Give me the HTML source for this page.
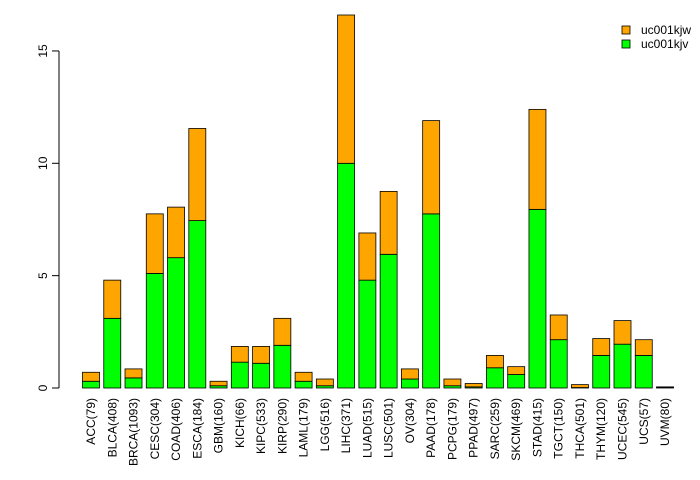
<!DOCTYPE html>
<html><head><meta charset="utf-8"><style>
body{margin:0;background:#fff}
svg{display:block;font-family:"Liberation Sans",sans-serif}
</style></head><body>
<svg id="c" width="700" height="480"></svg>
<script>
const categories=["ACC(79)","BLCA(408)","BRCA(1093)","CESC(304)","COAD(406)","ESCA(184)","GBM(160)","KICH(66)","KIPC(533)","KIRP(290)","LAML(179)","LGG(516)","LIHC(371)","LUAD(515)","LUSC(501)","OV(304)","PAAD(178)","PCPG(179)","PPAD(497)","SARC(259)","SKCM(469)","STAD(415)","TGCT(150)","THCA(501)","THYM(120)","UCEC(545)","UCS(57)","UVM(80)"];
const kjv=[0.3,3.1,0.45,5.1,5.8,7.45,0.1,1.15,1.1,1.9,0.3,0.1,10,4.8,5.95,0.4,7.75,0.1,0.05,0.9,0.6,7.95,2.15,0.02,1.45,1.95,1.45,0.02];
const kjw=[0.4,1.7,0.4,2.65,2.25,4.1,0.2,0.7,0.75,1.2,0.4,0.3,6.6,2.1,2.8,0.45,4.15,0.3,0.15,0.55,0.35,4.45,1.1,0.13,0.75,1.05,0.7,0.03];
const yTicks=[0,5,10,15];
const NS="http://www.w3.org/2000/svg";
const svg=document.getElementById('c');
function y(v){return 388-v*22.47;}
function x(i){return 91+i*21.26;}
function mk(t,a,p){const e=document.createElementNS(NS,t);for(const k in a)e.setAttribute(k,a[k]);(p||svg).appendChild(e);return e;}
// axis
const ax=mk('g',{});


mk('line',{x1:59,x2:59,y1:y(0),y2:y(15),stroke:'#000'},ax);
yTicks.forEach(t=>{
  mk('line',{x1:52,x2:59,y1:y(t),y2:y(t),stroke:'#000'},ax);
  const tx=mk('text',{x:0,y:0,transform:`translate(47,${y(t)}) rotate(-90)`,'text-anchor':'middle','font-size':12},ax);
  tx.textContent=t;
  
  
});
categories.forEach((c,i)=>{
  const g=mk('g',{});
  
  
  const bw=17,x0=x(i)-bw/2;
  mk('rect',{x:x0,y:y(kjv[i]),width:bw,height:y(0)-y(kjv[i]),fill:'#00ff00',stroke:'#000','stroke-width':0.8},g);
  mk('rect',{x:x0,y:y(kjv[i]+kjw[i]),width:bw,height:y(kjv[i])-y(kjv[i]+kjw[i]),fill:'#ffa500',stroke:'#000','stroke-width':0.8},g);
  const t=mk('text',{transform:`translate(${x(i)+4},398) rotate(-90)`,'text-anchor':'end','font-size':12},g);
  t.textContent=c;
  
  
});
// legend
const lg=mk('g',{});


[['uc001kjw','#ffa500',30],['uc001kjv','#00ff00',44]].forEach(([n,col,yy])=>{
  const e=mk('g',{},lg);
  
  
  mk('rect',{x:622,y:yy-4,width:8,height:8,fill:col,stroke:'#000','stroke-width':0.8},e);
  const t=mk('text',{x:641,y:yy+4,'font-size':12},e);t.textContent=n;
});
</script>
</body></html>
